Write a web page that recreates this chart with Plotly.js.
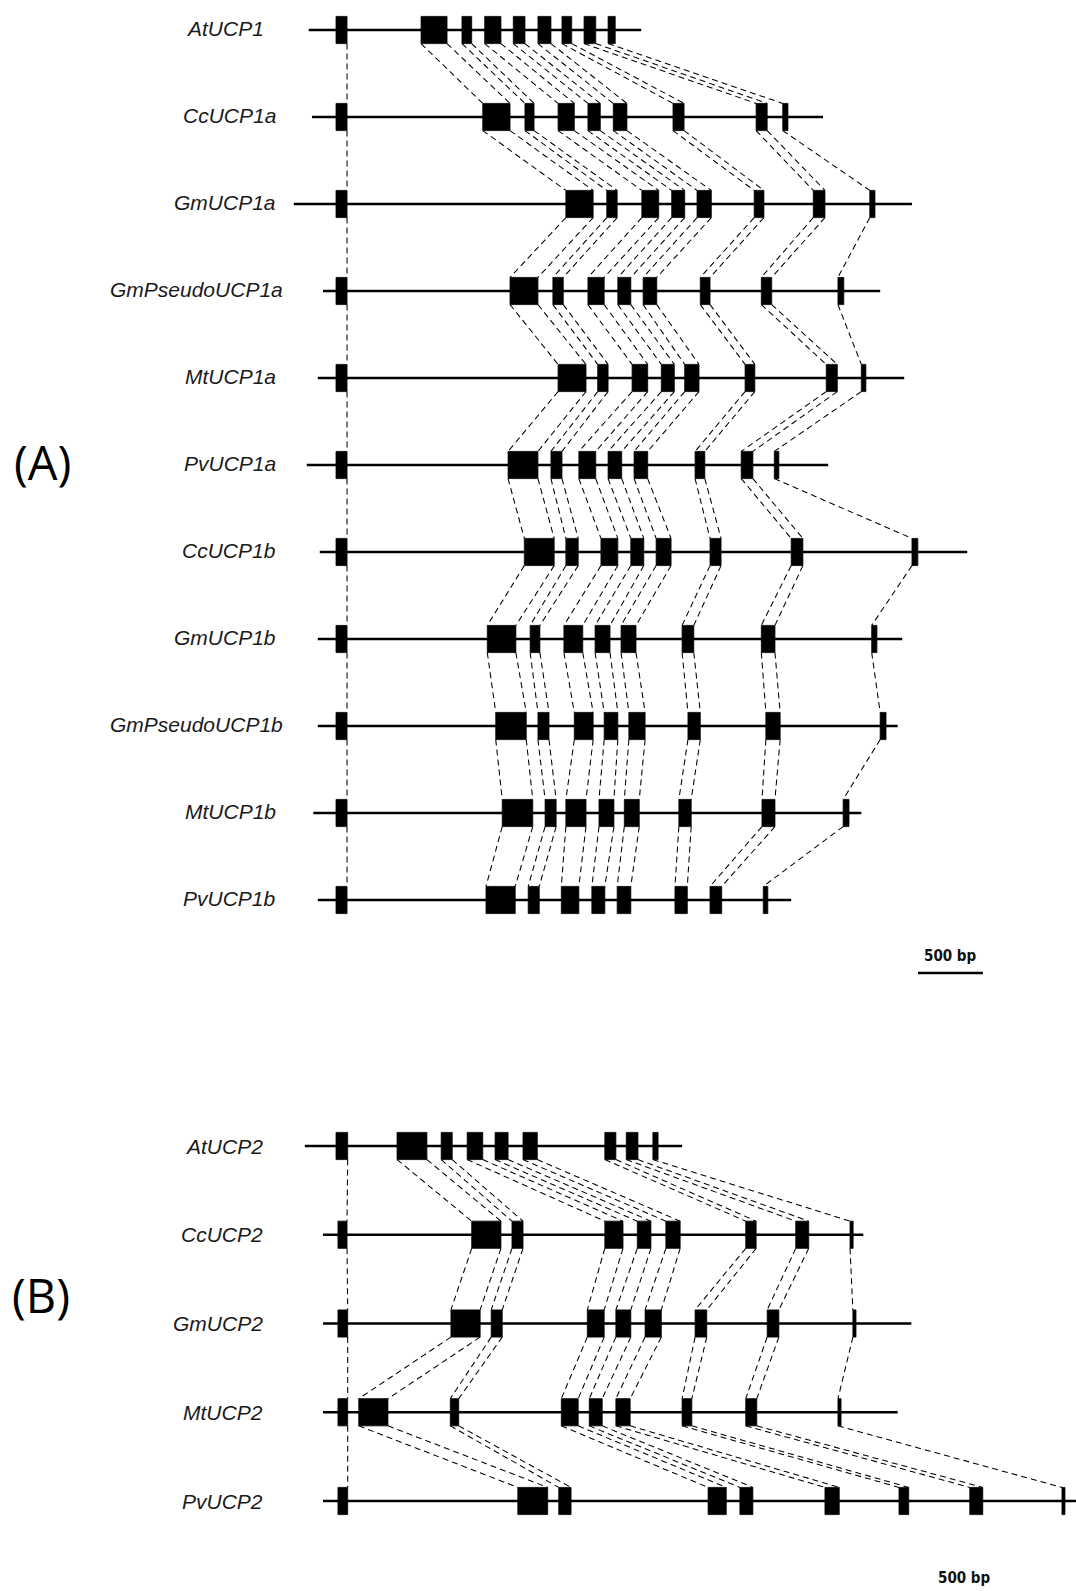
<!DOCTYPE html>
<html>
<head>
<meta charset="utf-8">
<script src="https://cdn.plot.ly/plotly-3.0.1.min.js"></script>
<style>html,body{margin:0;padding:0;background:#fff;}#chart{width:1076px;height:1591px;}</style>
</head>
<body>
<div id="chart"></div>
<script>
// ---------------- DATA (positions in bp, relative to the start of exon 1) ----------------
// Panel A: UCP1 genes
const genesA = ["AtUCP1","CcUCP1a","GmUCP1a","GmPseudoUCP1a","MtUCP1a","PvUCP1a",
                "CcUCP1b","GmUCP1b","GmPseudoUCP1b","MtUCP1b","PvUCP1b"];
const spansA = [[-210,2350],[-185,3750],[-325,4435],[-100,4190],[-140,4375],[-225,3790],
                [-125,4860],[-140,4360],[-140,4325],[-175,4045],[-140,3505]];
const exAtUCP1 = [[0,85],[655,855],[970,1045],[1145,1270],[1365,1455],[1555,1655],[1740,1815],[1910,2000],[2095,2150]];
const exCcUCP1a = [[0,85],[1130,1340],[1455,1525],[1710,1835],[1940,2035],[2135,2240],[2595,2680],[3235,3320],[3440,3480]];
const exGmUCP1a = [[0,85],[1770,1980],[2085,2165],[2355,2485],[2585,2685],[2780,2890],[3220,3295],[3675,3765],[4110,4150]];
const exGmPseudoUCP1a = [[0,85],[1340,1555],[1670,1750],[1940,2065],[2170,2270],[2365,2470],[2805,2880],[3275,3355],[3865,3910]];
const exMtUCP1a = [[0,85],[1710,1925],[2015,2095],[2280,2400],[2505,2605],[2685,2795],[3150,3225],[3775,3860],[4045,4080]];
const exPvUCP1a = [[0,85],[1325,1555],[1655,1740],[1870,2000],[2095,2200],[2295,2400],[2765,2840],[3120,3210],[3375,3410]];
const exCcUCP1b = [[0,85],[1450,1680],[1770,1865],[2040,2170],[2270,2370],[2465,2580],[2880,2965],[3505,3595],[4435,4480]];
const exGmUCP1b = [[0,85],[1165,1385],[1495,1570],[1755,1900],[1995,2110],[2195,2310],[2665,2755],[3275,3380],[4125,4165]];
const exGmPseudoUCP1b = [[0,85],[1230,1465],[1555,1640],[1835,1980],[2065,2170],[2255,2380],[2710,2805],[3310,3420],[4190,4235]];
const exMtUCP1b = [[0,85],[1280,1515],[1610,1695],[1770,1925],[2025,2140],[2220,2335],[2640,2735],[3280,3380],[3905,3950]];
const exPvUCP1b = [[0,85],[1155,1380],[1480,1565],[1735,1870],[1970,2070],[2165,2270],[2610,2705],[2880,2970],[3290,3325]];
const exonsA = [exAtUCP1,exCcUCP1a,exGmUCP1a,exGmPseudoUCP1a,exMtUCP1a,exPvUCP1a,
                exCcUCP1b,exGmUCP1b,exGmPseudoUCP1b,exMtUCP1b,exPvUCP1b];

// Panel B: UCP2 genes
const genesB = ["AtUCP2","CcUCP2","GmUCP2","MtUCP2","PvUCP2"];
const spansB = [[-240,2665],[-100,4060],[-100,4430],[-100,4325],[-100,5700]];
const exAtUCP2 = [[0,90],[470,700],[810,895],[1010,1130],[1225,1325],[1440,1550],[2070,2155],[2235,2325],[2440,2480]];
const exCcUCP2 = [[15,85],[1045,1270],[1355,1440],[2070,2210],[2320,2425],[2540,2650],[3155,3235],[3540,3640],[3958,3982]];
const exGmUCP2 = [[15,90],[885,1110],[1195,1280],[1935,2065],[2155,2270],[2380,2505],[2765,2855],[3320,3410],[3980,4004]];
const exMtUCP2 = [[15,90],[175,400],[880,945],[1735,1865],[1950,2050],[2155,2265],[2665,2740],[3155,3240],[3865,3889]];
const exPvUCP2 = [[15,90],[1400,1630],[1715,1810],[2865,3005],[3110,3210],[3765,3875],[4335,4410],[4880,4980],[5590,5613]];
const exonsB = [exAtUCP2,exCcUCP2,exGmUCP2,exMtUCP2,exPvUCP2];

const scaleBarBp = 500;
const panelLabels = ["(A)","(B)"];

// ---------------- LAYOUT CONSTANTS ----------------
const W = 1076, H = 1591;
const BP_PER_PX = 7.7, ORIGIN_PX = 336;
const xRange = [-ORIGIN_PX*BP_PER_PX, (W-ORIGIN_PX)*BP_PER_PX];
const A = {top:30, step:87};
const B = {top:1146, step:88.75};
const EXON_HALF_PX = 13.6;
function yRange(p){ return [(H-p.top)/p.step, -p.top/p.step]; }

function buildPanel(names, spans, exons, p, yref){
  const hh = EXON_HALF_PX / p.step;
  const bb = {x:[], y:[]}, ex = {x:[], y:[]}, cn = {x:[], y:[]};
  spans.forEach((s,i)=>{ bb.x.push(s[0],s[1],null); bb.y.push(i,i,null); });
  exons.forEach((g,i)=>{
    g.forEach(e=>{
      ex.x.push(e[0],e[1],e[1],e[0],e[0],null);
      ex.y.push(i-hh,i-hh,i+hh,i+hh,i-hh,null);
    });
  });
  for(let i=0;i<exons.length-1;i++){
    const up = exons[i], dn = exons[i+1];
    const m = Math.min(up.length, dn.length);
    for(let k=0;k<m;k++){
      if(k>0){ cn.x.push(up[k][0],dn[k][0],null); cn.y.push(i+hh,i+1-hh,null); }
      if(k<m-1){ cn.x.push(up[k][1],dn[k][1],null); cn.y.push(i+hh,i+1-hh,null); }
    }
  }
  return [
    {type:'scatter', mode:'lines', x:bb.x, y:bb.y, yaxis:yref, line:{color:'#000', width:2.4}, hoverinfo:'skip'},
    {type:'scatter', mode:'lines', x:cn.x, y:cn.y, yaxis:yref, line:{color:'#000', width:1.05, dash:'6px,4px'}, hoverinfo:'skip'},
    {type:'scatter', mode:'lines', x:ex.x, y:ex.y, yaxis:yref, fill:'toself', fillcolor:'#000', line:{color:'#000', width:0.8}, hoverinfo:'skip'}
  ];
}

const traces = [].concat(
  buildPanel(genesA, spansA, exonsA, A, 'y'),
  buildPanel(genesB, spansB, exonsB, B, 'y2')
);

// scale bars
const sbAx0 = (918-ORIGIN_PX)*BP_PER_PX;
const sbAy = (973-A.top)/A.step;
traces.push({type:'scatter', mode:'lines', x:[sbAx0, sbAx0+scaleBarBp], y:[sbAy,sbAy], yaxis:'y', line:{color:'#000', width:2.6}, hoverinfo:'skip'});
const sbBx0 = (932-ORIGIN_PX)*BP_PER_PX;
const sbBy = (1596-B.top)/B.step;
traces.push({type:'scatter', mode:'lines', x:[sbBx0, sbBx0+scaleBarBp], y:[sbBy,sbBy], yaxis:'y2', line:{color:'#000', width:2.6}, hoverinfo:'skip'});

const labelFont = {family:'Liberation Sans, Arial, sans-serif', size:21, color:'#1a1a1a'};
const annotations = [];
const labelRightA = {"AtUCP1":266, "GmPseudoUCP1a":285, "GmPseudoUCP1b":285};
genesA.forEach((g,i)=>{
  annotations.push({text:'<i>'+g+'</i>', xref:'paper', yref:'y', x:(labelRightA[g]||278)/W, y:i-0.015,
    xanchor:'right', yanchor:'middle', showarrow:false, font:labelFont});
});
genesB.forEach((g,i)=>{
  annotations.push({text:'<i>'+g+'</i>', xref:'paper', yref:'y2', x:265/W, y:i,
    xanchor:'right', yanchor:'middle', showarrow:false, font:labelFont});
});
const sbFont = {family:'DejaVu Sans Condensed, DejaVu Sans, sans-serif', size:15, color:'#111'};
annotations.push({text:'<b>'+scaleBarBp+' bp</b>', xref:'x', yref:'y', x:sbAx0+scaleBarBp/2, y:(956-A.top)/A.step,
  xanchor:'center', yanchor:'middle', showarrow:false, font:sbFont});
annotations.push({text:'<b>'+scaleBarBp+' bp</b>', xref:'x', yref:'y2', x:(964-ORIGIN_PX)*BP_PER_PX, y:(1578-B.top)/B.step,
  xanchor:'center', yanchor:'middle', showarrow:false, font:sbFont});
const plFont = {family:'Open Sans, Noto Sans, sans-serif', size:47, color:'#000'};
annotations.push({text:panelLabels[0], xref:'paper', yref:'paper', x:42/W, y:1-462/H, xanchor:'center', yanchor:'middle', showarrow:false, font:plFont});
annotations.push({text:panelLabels[1], xref:'paper', yref:'paper', x:41/W, y:1-1295/H, xanchor:'center', yanchor:'middle', showarrow:false, font:plFont});

const layout = {
  width:W, height:H, margin:{l:0,r:0,t:0,b:0,pad:0},
  paper_bgcolor:'#fff', plot_bgcolor:'#fff', showlegend:false, hovermode:false,
  xaxis:{range:xRange, visible:false, fixedrange:true},
  yaxis:{range:yRange(A), visible:false, fixedrange:true},
  yaxis2:{range:yRange(B), visible:false, fixedrange:true, overlaying:'y'},
  annotations:annotations
};
Plotly.newPlot('chart', traces, layout, {displayModeBar:false, staticPlot:true});
</script>
</body>
</html>
